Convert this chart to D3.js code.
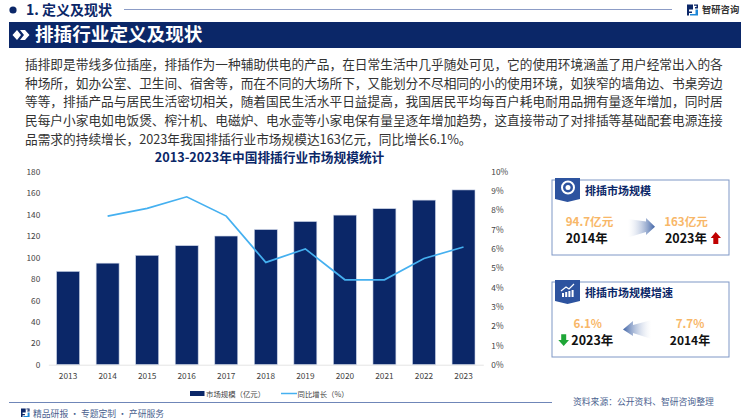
<!DOCTYPE html>
<html>
<head>
<meta charset="utf-8">
<script src="https://cdn.jsdelivr.net/npm/d3@7"></script>
<style>
html, body { margin: 0; padding: 0; background: #fff; }
svg { display: block; }
text { font-family: "Noto Sans CJK SC", sans-serif; }
</style>
</head>
<body>
<svg id="chart" width="750" height="420"></svg>
<script>
const years = ["2013", "2014", "2015", "2016", "2017", "2018", "2019", "2020", "2021", "2022", "2023"]
const marketSize = [87, 94.7, 102, 111, 120, 126, 133.5, 139.5, 145.5, 153.5, 163]
const growth = [null, 7.7, 8.1, 8.7, 7.7, 5.3, 6.0, 4.4, 4.4, 5.5, 6.1]
const leftTicks = [0, 20, 40, 60, 80, 100, 120, 140, 160, 180]
const rightTicks = [0, 1, 2, 3, 4, 5, 6, 7, 8, 9, 10]
const bodyLines = [
    "插排即是带线多位插座，排插作为一种辅助供电的产品，在日常生活中几乎随处可见，它的使用环境涵盖了用户经常出入的各",
    "种场所，如办公室、卫生间、宿舍等，而在不同的大场所下，又能划分不尽相同的小的使用环境，如狭窄的墙角边、书桌旁边",
    "等等，排插产品与居民生活密切相关，随着国民生活水平日益提高，我国居民平均每百户耗电耐用品拥有量逐年增加，同时居",
    "民每户小家电如电饭煲、榨汁机、电磁炉、电水壶等小家电保有量呈逐年增加趋势，这直接带动了对排插等基础配套电源连接",
    "品需求的持续增长，2023年我国排插行业市场规模达163亿元，同比增长6.1%。"
]

const navy = "#0b2768"
const lineBlue = "#45b0f0"
const orange = "#f8b768"
const frame = "#7f97c6"
const svg = d3.select("#chart")
const defs = svg.append("defs")

// header
svg.append("circle").attr("cx", 13).attr("cy", 10).attr("r", 3.6).attr("fill", navy)
svg.append("text").text("1. 定义及现状")
    .attr("x", 26).attr("y", 15).attr("font-size", 14).attr("font-weight", 700).attr("fill", navy)
svg.append("line").attr("x1", 124).attr("x2", 672).attr("y1", 9.5).attr("y2", 9.5)
    .attr("stroke", "#8c9cc6").attr("stroke-width", 1)

// logo top right
function logo(x, y, s, c1, c2){
    let g = svg.append("g").attr("transform", `translate(${x},${y}) scale(${s})`)
    g.append("path").attr("d", "M0 0H6V5H2V7H5V8.5H2V11H0Z").attr("fill", c1)
    g.append("path").attr("d", "M7 0H11V4H8V2.5H9.5V1.3H7Z").attr("fill", c1)
    g.append("path").attr("d", "M8.5 5H11V11H3V9.5H8.5Z").attr("fill", c2)
}
logo(687, 4.5, 1, navy, "#1e88d8")
svg.append("text").text("智研咨询")
    .attr("x", 702).attr("y", 13).attr("font-size", 9.3).attr("font-weight", 700).attr("fill", "#333")

// title band
svg.append("rect").attr("x", 9).attr("y", 22).attr("width", 732).attr("height", 26).attr("fill", navy)
svg.append("path").attr("d", "M12.5 35L17 30L21 35L17 40Z M20 30H25L29.5 35L25 40H20L24 35Z").attr("fill", "#fff")
svg.append("text").text("排插行业定义及现状")
    .attr("x", 35).attr("y", 41.3).attr("font-size", 18.6).attr("font-weight", 700).attr("fill", "#fff")

// body paragraph
svg.selectAll(".bodyLine").data(bodyLines).enter().append("text")
    .attr("class", "bodyLine")
    .text(d => d)
    .attr("x", 25)
    .attr("y", (d, i) => 69 + i * 18.7)
    .attr("font-size", 12.7)
    .attr("fill", "#333")

// chart title
svg.append("text").text("2013-2023年中国排插行业市场规模统计")
    .attr("x", 269.5).attr("y", 162.4).attr("text-anchor", "middle")
    .attr("font-size", 12.7).attr("font-weight", 700).attr("fill", navy)

// scales
const x = d3.scaleBand().domain(years).range([48.3, 483.3]).paddingInner(0.42).paddingOuter(0.21)
const yLeft = d3.scaleLinear().domain([0, 180]).range([364.7, 171.7])
const yRight = d3.scaleLinear().domain([0, 10]).range([364.7, 171.7])

svg.selectAll(".bar").data(years).enter().append("rect")
    .attr("class", "bar")
    .attr("x", d => x(d))
    .attr("y", (d, i) => yLeft(marketSize[i]))
    .attr("width", x.bandwidth())
    .attr("height", (d, i) => yLeft(0) - yLeft(marketSize[i]))
    .attr("fill", navy)
    .attr("stroke", "#c9d2e6")
    .attr("stroke-width", 0.6)

const growthLine = d3.line()
    .defined(d => d != null)
    .x((d, i) => x(years[i]) + x.bandwidth() / 2)
    .y(d => yRight(d))
svg.append("path").datum(growth)
    .attr("d", growthLine)
    .attr("fill", "none")
    .attr("stroke", lineBlue)
    .attr("stroke-width", 1.7)

// axes
let leftAxis = svg.append("g").attr("transform", "translate(48.3,0)")
    .call(d3.axisLeft(yLeft).tickValues(leftTicks).tickSize(0).tickPadding(8))
let rightAxis = svg.append("g").attr("transform", "translate(483.3,0)")
    .call(d3.axisRight(yRight).tickValues(rightTicks).tickSize(0).tickPadding(8).tickFormat(d => d + "%"))
let bottomAxis = svg.append("g").attr("transform", "translate(0,364.7)")
    .call(d3.axisBottom(x).tickSize(0).tickPadding(8))
leftAxis.select(".domain").remove()
rightAxis.select(".domain").remove()
bottomAxis.select(".domain").attr("stroke", "#e4e4e4").attr("stroke-width", 1)
svg.selectAll(".tick text")
    .attr("font-family", "\"Open Sans\", sans-serif")
    .attr("font-size", 8.3)
    .attr("fill", "#444")

// legend
svg.append("rect").attr("x", 190).attr("y", 391).attr("width", 14.5).attr("height", 5).attr("fill", navy)
svg.append("text").text("市场规模（亿元）")
    .attr("x", 206).attr("y", 396.5).attr("font-size", 7.4).attr("fill", "#444")
svg.append("line").attr("x1", 281).attr("x2", 297).attr("y1", 393.5).attr("y2", 393.5)
    .attr("stroke", lineBlue).attr("stroke-width", 1.5)
svg.append("text").text("同比增长（%）")
    .attr("x", 297.5).attr("y", 396.5).attr("font-size", 7.4).attr("fill", "#444")

// footer
svg.append("line").attr("x1", 9).attr("x2", 552).attr("y1", 402.5).attr("y2", 402.5)
    .attr("stroke", "#6f86b8").attr("stroke-width", 1)
logo(21, 408.5, 0.78, navy, "#1e88d8")
svg.append("text").text("精品研报 · 专题定制 · 产研服务")
    .attr("x", 33).attr("y", 416.5).attr("font-size", 8.8).attr("fill", "#4a5f8f")
svg.append("text").text("资料来源：公开资料、智研咨询整理")
    .attr("x", 573).attr("y", 405).attr("font-size", 8.8).attr("fill", "#4a5f8f")

// gradients for the arrows
function arrowGradient(id, x1, x2){
    let g = defs.append("linearGradient").attr("id", id)
        .attr("x1", x1).attr("x2", x2).attr("y1", 0).attr("y2", 0)
    g.append("stop").attr("offset", "0%").attr("stop-color", "#fff").attr("stop-opacity", 0.2)
    g.append("stop").attr("offset", "100%").attr("stop-color", "#3f63a6")
}
arrowGradient("arrowRight", 0, 1)
arrowGradient("arrowLeft", 1, 0)

// side cards
function card(y, h, title){
    svg.append("rect").attr("x", 552).attr("y", y).attr("width", 177).attr("height", h)
        .attr("fill", "#fff").attr("stroke", frame).attr("stroke-width", 1)
    svg.append("path")
        .attr("d", `M555 ${y - 2}H580V${y + 19}L567.5 ${y + 22}L555 ${y + 19}Z`)
        .attr("fill", "#2d539f")
    svg.append("text").text(title)
        .attr("x", 585).attr("y", y + 14.5).attr("font-size", 11).attr("font-weight", 700).attr("fill", navy)
}
function label(txt, cx, y, size, fill){
    svg.append("text").text(txt)
        .attr("x", cx).attr("y", y).attr("text-anchor", "middle")
        .attr("font-size", size).attr("font-weight", 700).attr("fill", fill)
}

card(180, 75, "排插市场规模")
svg.append("circle").attr("cx", 568).attr("cy", 187.5).attr("r", 6).attr("fill", "none").attr("stroke", "#fff").attr("stroke-width", 2)
svg.append("circle").attr("cx", 568).attr("cy", 187.5).attr("r", 2.5).attr("fill", "#fff")
label("94.7亿元", 589.5, 226, 11.6, orange)
label("2014年", 586.7, 243, 12.5, "#111")
label("163亿元", 686, 226, 11.6, orange)
label("2023年", 686, 243, 12.5, "#111")
svg.append("path").attr("d", "M628 219L646 221.5V218L655 226.7L646 235V232L628 237.5Z").attr("fill", "url(#arrowRight)")
svg.append("path").attr("d", "M715.7 232L721 238H718.3V244H713.3V238H710.7Z").attr("fill", "#c00000")

card(282, 75, "排插市场规模增速")
svg.selectAll(".spark").data([0, 1, 2, 3]).enter().append("rect")
    .attr("class", "spark")
    .attr("x", d => 562 + d * 3.2)
    .attr("y", d => 293 - d * 1)
    .attr("width", 2)
    .attr("height", d => 4 + d * 1)
    .attr("fill", "#fff")
svg.append("path").attr("d", "M561 291L566 287L569 289L574 284").attr("fill", "none").attr("stroke", "#fff").attr("stroke-width", 1.2)
label("6.1%", 587.7, 328, 11.6, orange)
label("2023年", 592.3, 345, 12.5, "#111")
label("7.7%", 690, 328, 11.6, orange)
label("2014年", 690, 345, 12, "#111")
svg.append("path").attr("d", "M651.5 320L633 325V321L623 329.5L633 336V333L651.5 339Z").attr("fill", "url(#arrowLeft)")
svg.append("path").attr("d", "M563.7 346L558.3 340H561.2V334.3H566.2V340H569Z").attr("fill", "#1fa637")
</script>
</body>
</html>
